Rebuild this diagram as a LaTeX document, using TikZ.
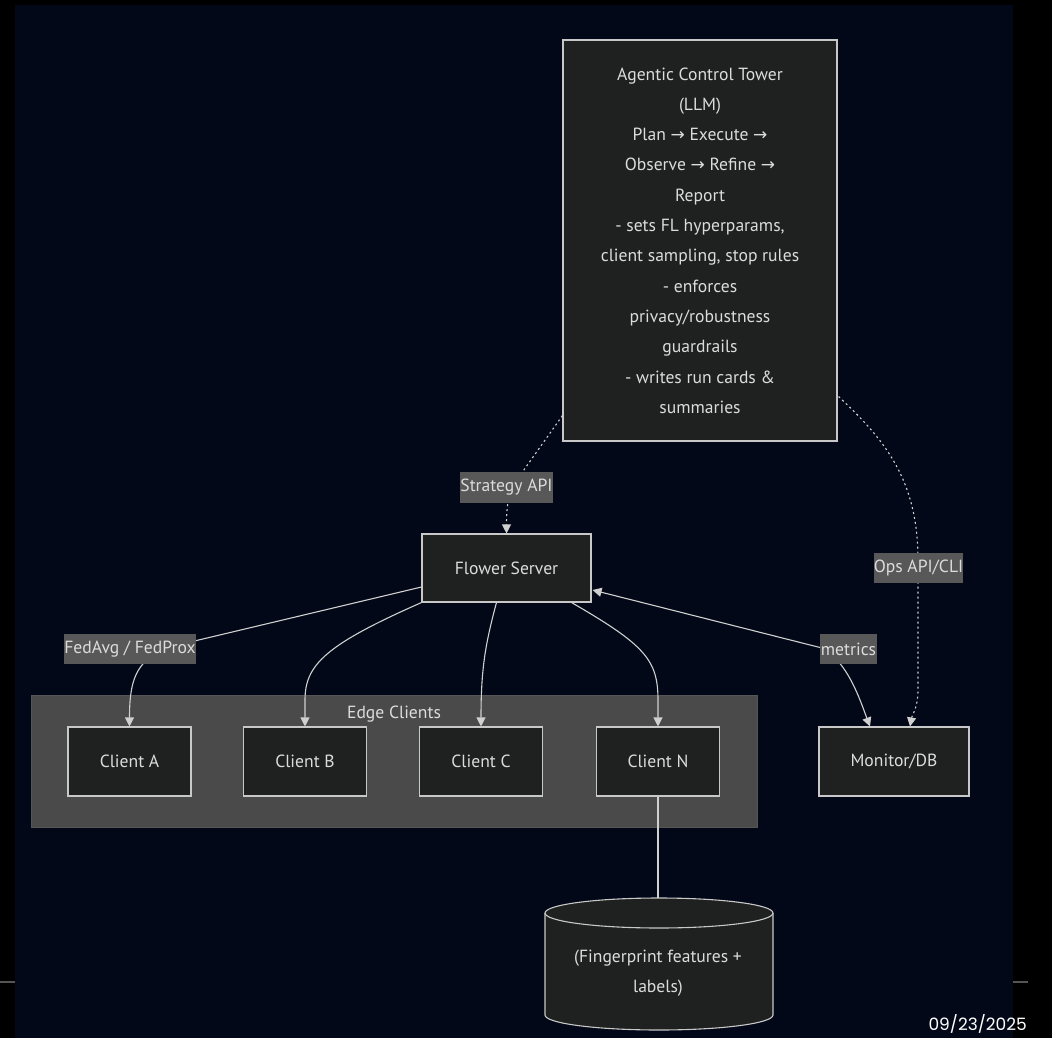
\documentclass[tikz,border=0pt]{standalone}
\usepackage{fontspec}
\setmainfont{PT Sans}
\newfontfamily\arrowfont{DejaVu Sans}
\newfontfamily\datefont{Poppins}
\usetikzlibrary{arrows.meta,calc}
\definecolor{pagebg}{RGB}{2,8,23}
\definecolor{nodefill}{HTML}{1F2020}
\definecolor{nodeline}{HTML}{C8C8C8}
\definecolor{txt}{HTML}{DCDCDC}
\definecolor{clusterfill}{HTML}{4A4A4A}
\definecolor{clusterline}{HTML}{555555}
\definecolor{labelfill}{HTML}{585858}
\definecolor{edgecol}{HTML}{D0D0D0}
\newcommand{\ar}{{\arrowfont\fontsize{17}{17}\selectfont →}}
\tikzset{
  nodebox/.style={draw=nodeline, fill=nodefill, line width=1.1pt, text=txt, inner sep=0pt, align=center, font=\fontsize{17.6}{30.3}\selectfont},
  clusterbox/.style={draw=clusterline, fill=clusterfill, line width=1pt, inner sep=0pt},
  edgelabel/.style={fill=labelfill, text=txt, inner sep=0pt, font=\fontsize{17.6}{20}\selectfont},
  edge/.style={draw=edgecol, line width=1.1pt, -{Triangle[length=9pt,width=9pt]}},
  dotedge/.style={edge, dash pattern=on 2pt off 3pt},
  plainedge/.style={draw=edgecol, line width=1.1pt},
}
\begin{document}
\begin{tikzpicture}[x=1pt,y=-1pt]
\useasboundingbox (0,0) rectangle (1052,1038);
\fill[black] (0,0) rectangle (1052,1038);
\fill[pagebg] (15,5) rectangle (1013,1038);
\draw[clusterline, line width=2pt] (0,982) -- (15,982);
\draw[clusterline, line width=2pt] (1013,982) -- (1028,982);

% cluster
\node[clusterbox, minimum width=726pt, minimum height=132pt] (cluster) at (394,761) {};
\node[text=txt, font=\fontsize{17.6}{20}\selectfont, anchor=base] (clustertitle) at (394,718) {Edge Clients};

% main nodes
\node[nodebox, minimum width=274pt, minimum height=401pt] (tower) at (700,240.5) {Agentic Control Tower\\(LLM)\\Plan \ar{} Execute \ar\\Observe \ar{} Refine \ar\\Report\\- sets FL hyperparams,\\client sampling, stop rules\\- enforces\\privacy/robustness\\guardrails\\- writes run cards \&\\summaries};
\node[nodebox, minimum width=169pt, minimum height=68pt] (server) at (506.5,568) {Flower Server};
\node[nodebox, minimum width=123pt, minimum height=69pt] (ca) at (129.5,761.5) {Client A};
\node[nodebox, minimum width=123pt, minimum height=69pt] (cb) at (305,761.5) {Client B};
\node[nodebox, minimum width=123pt, minimum height=69pt] (cc) at (481,761.5) {Client C};
\node[nodebox, minimum width=123pt, minimum height=69pt] (cn) at (658,761.5) {Client N};
\node[nodebox, minimum width=150pt, minimum height=69pt] (mon) at (894,761.5) {Monitor/DB};

% database cylinder
\coordinate (dbtop) at (658,898);
\draw[draw=nodeline, fill=nodefill, line width=1.1pt] (545,913) -- (545,1015) arc[start angle=180, end angle=0, x radius=114, y radius=15] -- (773,913) arc[start angle=0, end angle=-180, x radius=114, y radius=15] -- cycle;
\draw[draw=nodeline, line width=1.1pt] (545,913) arc[start angle=180, end angle=0, x radius=114, y radius=15];
\node[text=txt, align=center, font=\fontsize{17.6}{30.3}\selectfont] (db) at (658,973) {(Fingerprint features +\\labels)};

% edges
\draw[dotedge] ($(tower.south west)+(0,-26)$) -- (521,474) .. controls (508,492) and (506.5,505) .. (server.north);
\draw[dotedge] ($(tower.south east)+(1,-45)$) .. controls (885,440) and (918,480) .. (918,560) -- (918,690) .. controls (918,708) and (912,715) .. ($(mon.north)+(16,0)$);
\draw[edge] ($(server.west)+(0,19)$) -- (165,648) .. controls (136,662) and (129.5,680) .. (ca.north);
\draw[edge] ($(server.south west)+(0,0)$) .. controls (325,645) and (305,665) .. (305,700) -- (cb.north);
\draw[edge] ($(server.south)+(-10,0)$) .. controls (485,645) and (481,670) .. (cc.north);
\draw[edge] ($(server.south east)+(-20,0)$) .. controls (645,645) and (658,660) .. (658,700) -- (cn.north);
\draw[edge, {Triangle[length=9pt,width=9pt]}-{Triangle[length=9pt,width=9pt]}] ($(server.east)+(1,22)$) -- (822,648) .. controls (848,662) and (860,700) .. ($(mon.north)+(-24,0)$);
\draw[plainedge] (cn.south) -- (dbtop);

% edge labels
\node[edgelabel, minimum width=91pt, minimum height=31pt] (lstrat) at (506.5,487.5) {Strategy API};
\node[edgelabel, minimum width=132pt, minimum height=30pt] (lfed) at (130,649) {FedAvg / FedProx};
\node[edgelabel, minimum width=57pt, minimum height=30pt] (lmet) at (848.5,649) {metrics};
\node[edgelabel, minimum width=89pt, minimum height=30pt] (lops) at (918.5,568) {Ops API/CLI};

% date
\node[text=white, font=\datefont\fontsize{17}{19}\selectfont, anchor=base east, inner sep=0pt] (date) at (1027,1030) {09/23/2025};
\end{tikzpicture}
\end{document}
